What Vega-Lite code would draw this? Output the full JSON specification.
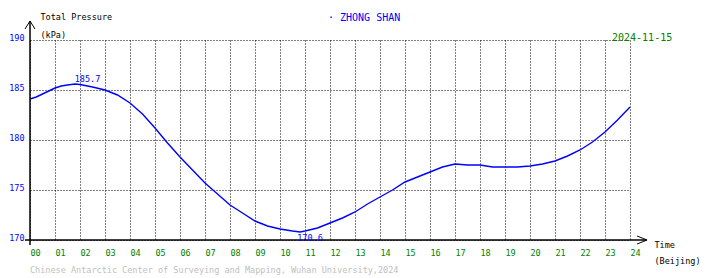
{
  "$schema": "https://vega.github.io/schema/vega-lite/v6.json",
  "width": 600,
  "height": 200,
  "autosize": "none",
  "padding": {"left": 30, "top": 40, "right": 80, "bottom": 38},
  "background": "white",
  "config": {
    "view": {"stroke": null},
    "font": "DejaVu Sans Mono"
  },
  "resolve": {"axis": {"x": "independent", "y": "independent"}},
  "datasets": {
    "pressure": [
      {"h": 0, "p": 184.1}, {"h": 0.25, "p": 184.3}, {"h": 0.5, "p": 184.6}, {"h": 0.75, "p": 184.9},
      {"h": 1, "p": 185.2}, {"h": 1.25, "p": 185.4}, {"h": 1.5, "p": 185.5}, {"h": 1.8, "p": 185.6},
      {"h": 2, "p": 185.55}, {"h": 2.5, "p": 185.3}, {"h": 3, "p": 185.0}, {"h": 3.5, "p": 184.5},
      {"h": 4, "p": 183.7}, {"h": 4.5, "p": 182.6}, {"h": 5, "p": 181.2}, {"h": 5.5, "p": 179.7},
      {"h": 6, "p": 178.3}, {"h": 6.5, "p": 177.0}, {"h": 7, "p": 175.7}, {"h": 7.5, "p": 174.6},
      {"h": 8, "p": 173.5}, {"h": 8.5, "p": 172.7}, {"h": 9, "p": 171.9}, {"h": 9.5, "p": 171.4},
      {"h": 10, "p": 171.1}, {"h": 10.5, "p": 170.9}, {"h": 10.8, "p": 170.8}, {"h": 11, "p": 170.9},
      {"h": 11.5, "p": 171.2}, {"h": 12, "p": 171.7}, {"h": 12.5, "p": 172.2}, {"h": 13, "p": 172.8},
      {"h": 13.5, "p": 173.6}, {"h": 14, "p": 174.3}, {"h": 14.5, "p": 175.0}, {"h": 15, "p": 175.8},
      {"h": 15.5, "p": 176.3}, {"h": 16, "p": 176.8}, {"h": 16.5, "p": 177.3}, {"h": 17, "p": 177.6},
      {"h": 17.5, "p": 177.5}, {"h": 18, "p": 177.5}, {"h": 18.5, "p": 177.3}, {"h": 19, "p": 177.3},
      {"h": 19.5, "p": 177.3}, {"h": 20, "p": 177.4}, {"h": 20.5, "p": 177.6}, {"h": 21, "p": 177.9},
      {"h": 21.5, "p": 178.4}, {"h": 22, "p": 179.0}, {"h": 22.5, "p": 179.8}, {"h": 23, "p": 180.8},
      {"h": 23.5, "p": 182.0}, {"h": 24, "p": 183.3}
    ],
    "extremes": [
      {"h": 2.3, "p": 185.7, "label": "185.7", "kind": "max"},
      {"h": 11.2, "p": 170.6, "label": "170.6", "kind": "min"}
    ]
  },
  "layer": [
    {
      "data": {"name": "pressure"},
      "mark": {"type": "line", "color": "#0000ff", "strokeWidth": 1.4},
      "encoding": {
        "x": {
          "field": "h", "type": "quantitative",
          "scale": {"domain": [0, 24], "nice": false, "zero": false},
          "axis": {
            "values": [0,1,2,3,4,5,6,7,8,9,10,11,12,13,14,15,16,17,18,19,20,21,22,23,24],
            "labelExpr": "datum.value < 10 ? '0' + datum.value : '' + datum.value",
            "domain": false, "ticks": false, "tickSize": 0,
            "grid": true, "gridColor": "#000000", "gridDash": [1, 2], "gridWidth": 1, "gridOpacity": 1,
            "labelColor": "#008000", "labelFont": "DejaVu Sans Mono", "labelFontSize": 8.5,
            "labelAlign": "left", "labelBaseline": "alphabetic", "labelPadding": 15, "labelDx": 1,
            "labelOverlap": false, "labelFlush": false,
            "title": ["Time", "(Beijing)"], "titleFont": "DejaVu Sans Mono", "titleFontSize": 8.5,
            "titleFontWeight": "normal", "titleColor": "#000000", "titleAlign": "left",
            "titleBaseline": "alphabetic", "titleLineHeight": 16, "titleX": 624, "titleY": 7, "titleAngle": 0
          }
        },
        "y": {
          "field": "p", "type": "quantitative",
          "scale": {"domain": [170, 190], "nice": false, "zero": false},
          "axis": {
            "values": [170, 175, 180, 185, 190],
            "domain": false, "ticks": false, "tickSize": 0,
            "grid": true, "gridColor": "#000000", "gridDash": [1, 2], "gridWidth": 1, "gridOpacity": 1,
            "labelColor": "#0000ff", "labelFont": "DejaVu Sans Mono", "labelFontSize": 8.5,
            "labelAlign": "right", "labelBaseline": "alphabetic", "labelPadding": 6, "labelDy": 0.5,
            "labelOverlap": false, "labelFlush": false,
            "title": ["Total Pressure", "(kPa)"], "titleFont": "DejaVu Sans Mono", "titleFontSize": 8.5,
            "titleFontWeight": "normal", "titleColor": "#000000", "titleAlign": "left",
            "titleBaseline": "alphabetic", "titleLineHeight": 18, "titleX": 10, "titleY": -21, "titleAngle": 0
          }
        }
      }
    },
    {
      "data": {"values": [{}]},
      "mark": {"type": "rule", "color": "#000000", "strokeWidth": 1.5},
      "encoding": {"x": {"datum": 0, "type": "quantitative", "axis": null}, "y": {"datum": 169.5, "type": "quantitative", "axis": null}, "y2": {"datum": 191.9}}
    },
    {
      "data": {"values": [{}]},
      "mark": {"type": "rule", "color": "#000000", "strokeWidth": 1.5},
      "encoding": {"y": {"datum": 170, "type": "quantitative", "axis": null}, "x": {"datum": -0.2, "type": "quantitative", "axis": null}, "x2": {"datum": 24.68}}
    },
    {
      "data": {"values": [{}]},
      "mark": {"type": "point", "shape": "M-1,1.6L0,0L1,1.6", "filled": false, "stroke": "#000000", "strokeWidth": 1, "size": 100, "opacity": 1},
      "encoding": {"x": {"datum": 0, "type": "quantitative", "axis": null}, "y": {"datum": 191.9, "type": "quantitative", "axis": null}}
    },
    {
      "data": {"values": [{}]},
      "mark": {"type": "point", "shape": "M-2,-0.8L0,0L-2,0.8", "filled": false, "stroke": "#000000", "strokeWidth": 1, "size": 100, "opacity": 1},
      "encoding": {"x": {"datum": 24.68, "type": "quantitative", "axis": null}, "y": {"datum": 170, "type": "quantitative", "axis": null}}
    },
    {
      "data": {"name": "extremes"},
      "transform": [{"filter": "datum.kind === 'max'"}],
      "mark": {"type": "text", "color": "#0000ff", "font": "DejaVu Sans Mono", "fontSize": 8.5, "align": "center", "baseline": "alphabetic", "dy": -1},
      "encoding": {"x": {"field": "h", "type": "quantitative", "axis": null}, "y": {"field": "p", "type": "quantitative", "axis": null}, "text": {"field": "label"}}
    },
    {
      "data": {"name": "extremes"},
      "transform": [{"filter": "datum.kind === 'min'"}],
      "mark": {"type": "text", "color": "#0000ff", "font": "DejaVu Sans Mono", "fontSize": 8.5, "align": "center", "baseline": "alphabetic", "dy": 7},
      "encoding": {"x": {"field": "h", "type": "quantitative", "axis": null}, "y": {"field": "p", "type": "quantitative", "axis": null}, "text": {"field": "label"}}
    },
    {
      "data": {"values": [{}]},
      "mark": {"type": "text", "color": "#0000ff", "font": "DejaVu Sans Mono", "fontSize": 10, "align": "left", "baseline": "alphabetic"},
      "encoding": {"x": {"datum": 11.92, "type": "quantitative", "axis": null}, "y": {"datum": 191.9, "type": "quantitative", "axis": null}, "text": {"value": "· ZHONG SHAN"}}
    },
    {
      "data": {"values": [{}]},
      "mark": {"type": "text", "color": "#008000", "font": "DejaVu Sans Mono", "fontSize": 10, "align": "left", "baseline": "alphabetic"},
      "encoding": {"x": {"datum": 23.28, "type": "quantitative", "axis": null}, "y": {"datum": 189.95, "type": "quantitative", "axis": null}, "text": {"value": "2024-11-15"}}
    },
    {
      "data": {"values": [{}]},
      "mark": {"type": "text", "color": "#c0c0c0", "font": "DejaVu Sans Mono", "fontSize": 8.5, "align": "left", "baseline": "alphabetic"},
      "encoding": {"x": {"datum": 0, "type": "quantitative", "axis": null}, "y": {"datum": 166.7, "type": "quantitative", "axis": null}, "text": {"value": "Chinese Antarctic Center of Surveying and Mapping, Wuhan University,2024"}}
    }
  ]
}
